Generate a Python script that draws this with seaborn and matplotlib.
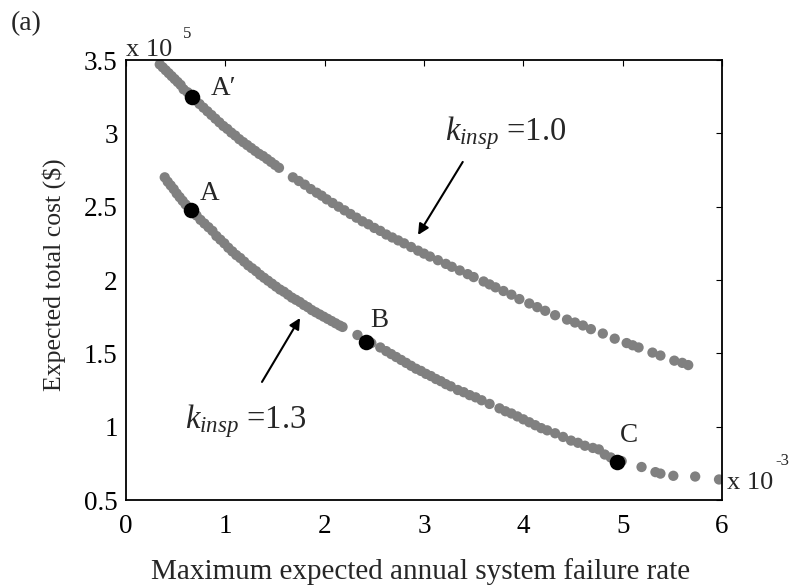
import matplotlib
matplotlib.use("Agg")
import matplotlib.pyplot as plt
import seaborn as sns
import pandas as pd
from matplotlib.ticker import FormatStrFormatter

# ---- data (x in units of 1e-3, y in units of 1e5) ----
k10_x = [0.34, 0.37, 0.40, 0.43, 0.46, 0.49, 0.52, 0.55, 0.58, 0.62, 0.66, 0.70, 0.74, 0.78,
         0.82, 0.86, 0.90, 0.94, 0.98, 1.02, 1.06, 1.10, 1.14, 1.18, 1.22, 1.26, 1.30, 1.34,
         1.38, 1.42, 1.46, 1.50, 1.54, 1.68, 1.74, 1.80, 1.86, 1.92, 1.97, 2.02, 2.08, 2.14,
         2.20, 2.26, 2.32, 2.38, 2.44, 2.50, 2.56, 2.62, 2.68, 2.74, 2.80, 2.87, 2.94, 3.00,
         3.06, 3.14, 3.22, 3.28, 3.36, 3.44, 3.50, 3.60, 3.66, 3.72, 3.80, 3.88, 3.96, 4.06,
         4.14, 4.22, 4.32, 4.44, 4.52, 4.60, 4.68, 4.80, 4.92, 5.04, 5.10, 5.16, 5.30, 5.38,
         5.52, 5.60, 5.66]
k10_y = [3.47, 3.45, 3.43, 3.41, 3.39, 3.37, 3.35, 3.33, 3.30, 3.28, 3.25, 3.225, 3.20, 3.175,
         3.15, 3.125, 3.10, 3.075, 3.05, 3.03, 3.005, 2.985, 2.96, 2.94, 2.92, 2.90, 2.88, 2.86,
         2.845, 2.825, 2.805, 2.785, 2.765, 2.70, 2.675, 2.65, 2.62, 2.595, 2.575, 2.55, 2.525, 2.50,
         2.475, 2.45, 2.425, 2.40, 2.38, 2.355, 2.335, 2.31, 2.29, 2.27, 2.25, 2.225, 2.20, 2.18,
         2.16, 2.135, 2.11, 2.09, 2.065, 2.04, 2.02, 1.99, 1.97, 1.95, 1.925, 1.90, 1.87, 1.84,
         1.815, 1.79, 1.76, 1.73, 1.71, 1.69, 1.665, 1.635, 1.600, 1.57, 1.555, 1.54, 1.505, 1.485,
         1.45, 1.435, 1.42]

k13_x = [0.39, 0.42, 0.45, 0.48, 0.51, 0.54, 0.57, 0.60, 0.63, 0.67, 0.71, 0.75, 0.79, 0.83,
         0.87, 0.91, 0.95, 0.99, 1.03, 1.07, 1.11, 1.15, 1.19, 1.23, 1.27, 1.31, 1.35, 1.39,
         1.43, 1.47, 1.51, 1.55, 1.59, 1.63, 1.67, 1.71, 1.75, 1.79, 1.83, 1.87, 1.91, 1.95,
         1.99, 2.03, 2.07, 2.11, 2.15, 2.18, 2.33, 2.47, 2.56, 2.62, 2.67, 2.72, 2.77, 2.82,
         2.87, 2.92, 2.97, 3.02, 3.07, 3.12, 3.17, 3.22, 3.27, 3.34, 3.40, 3.46, 3.52, 3.58,
         3.66, 3.76, 3.82, 3.88, 3.94, 4.00, 4.06, 4.12, 4.18, 4.24, 4.32, 4.40, 4.48, 4.55,
         4.62, 4.70, 4.76, 4.82, 4.88, 4.99, 5.19, 5.33, 5.38, 5.51, 5.73, 5.97]
k13_y = [2.70, 2.67, 2.645, 2.62, 2.59, 2.565, 2.54, 2.515, 2.495, 2.465, 2.44, 2.41, 2.385, 2.36,
         2.335, 2.30, 2.275, 2.25, 2.22, 2.195, 2.17, 2.15, 2.125, 2.10, 2.08, 2.06, 2.035, 2.015,
         1.995, 1.975, 1.955, 1.935, 1.92, 1.90, 1.88, 1.865, 1.85, 1.83, 1.815, 1.795, 1.78, 1.765,
         1.75, 1.735, 1.72, 1.705, 1.69, 1.68, 1.625, 1.57, 1.54, 1.515, 1.495, 1.475, 1.455, 1.435,
         1.415, 1.395, 1.38, 1.36, 1.345, 1.325, 1.31, 1.29, 1.275, 1.25, 1.235, 1.215, 1.20, 1.18,
         1.155, 1.125, 1.105, 1.09, 1.07, 1.05, 1.03, 1.01, 0.99, 0.975, 0.955, 0.93, 0.905, 0.89,
         0.87, 0.855, 0.845, 0.81, 0.79, 0.765, 0.725, 0.69, 0.68, 0.665, 0.66, 0.64]

sel_x = [0.66, 0.65, 2.42, 4.94]
sel_y = [3.25, 2.48, 1.58, 0.76]
sel_labels = ["A\u2032", "A", "B", "C"]

x_ticks = [0, 1, 2, 3, 4, 5, 6]
y_ticks = [0.5, 1, 1.5, 2, 2.5, 3, 3.5]
x_label = "Maximum expected annual system failure rate"
y_label = "Expected total cost ($)"
curve_labels = [r"$k_{insp}$ =1.0", r"$k_{insp}$ =1.3"]

df = pd.concat([
    pd.DataFrame({"rate": k10_x, "cost": k10_y, "k": "1.0"}),
    pd.DataFrame({"rate": k13_x, "cost": k13_y, "k": "1.3"}),
])

sns.set_style("white")
plt.rcParams["font.family"] = ["Liberation Serif", "DejaVu Serif"]
plt.rcParams["mathtext.fontset"] = "custom"
plt.rcParams["mathtext.rm"] = "Liberation Serif"
plt.rcParams["mathtext.it"] = "Liberation Serif:italic"

fig = plt.figure(figsize=(7.94, 5.86), dpi=100)
ax = fig.add_axes([126 / 794, 86 / 586, 596 / 794, 440 / 586])

sns.scatterplot(data=df, x="rate", y="cost", hue="k", palette=["#808080", "#808080"],
                s=55, linewidth=0, legend=False, ax=ax, zorder=2)
sns.scatterplot(x=sel_x, y=sel_y, color="black", s=125, linewidth=0, ax=ax, zorder=3)

ax.set_xlim(0, 6)
ax.set_ylim(0.5, 3.5)
ax.set_xticks(x_ticks)
ax.set_yticks(y_ticks)
ax.yaxis.set_major_formatter(FormatStrFormatter("%g"))
ax.tick_params(direction="in", length=4, width=0.8, top=True, right=True,
               labelsize=19.5, colors="black")
ax.tick_params(axis="x", pad=10)
ax.tick_params(axis="y", pad=6)
for sp in ax.spines.values():
    sp.set_visible(True)
    sp.set_color("black")
    sp.set_linewidth(1.3)

ax.set_xlabel(x_label, fontsize=21)
ax.set_ylabel(y_label, fontsize=18.5)
ax.xaxis.set_label_coords(0.495, -0.163)
ax.xaxis.label.set_va("center")
ax.yaxis.set_label_coords(-0.12, 0.512)
ax.yaxis.label.set_va("center")

# exponent labels
ax.text(0.0, 1.008, "x 10", transform=ax.transAxes, fontsize=19, va="baseline", ha="left")
ax.text(0.095, 1.05, "5", transform=ax.transAxes, fontsize=12, va="baseline", ha="left")
ax.text(1.008, 0.025, "x 10", transform=ax.transAxes, fontsize=19, va="baseline", ha="left")
ax.text(1.09, 0.08, "-3", transform=ax.transAxes, fontsize=12, va="baseline", ha="left")
fig.text(26 / 794, 1 - 24 / 586, "(a)", fontsize=20, ha="center", va="center")

# point labels
lab_pos = [(0.85, 3.26), (0.745, 2.545), (2.456, 1.68), (4.97, 0.896)]
for (lx, ly), t in zip(lab_pos, sel_labels):
    ax.text(lx, ly, t, fontsize=19.5, va="baseline", ha="left")

# curve annotations
arrow_kw = dict(arrowstyle="-|>", color="black", lw=1.5, mutation_scale=16,
                shrinkA=0, shrinkB=0)
ax.annotate("", xy=(2.94, 2.307), xytext=(3.39, 2.805), arrowprops=arrow_kw)
ax.annotate("", xy=(1.752, 1.741), xytext=(1.369, 1.305), arrowprops=arrow_kw)
ax.text(3.21, 2.955, curve_labels[0], fontsize=23.5, va="baseline", ha="left")
ax.text(0.594, 0.991, curve_labels[1], fontsize=23.5, va="baseline", ha="left")

fig.savefig("out.png", dpi=100)
